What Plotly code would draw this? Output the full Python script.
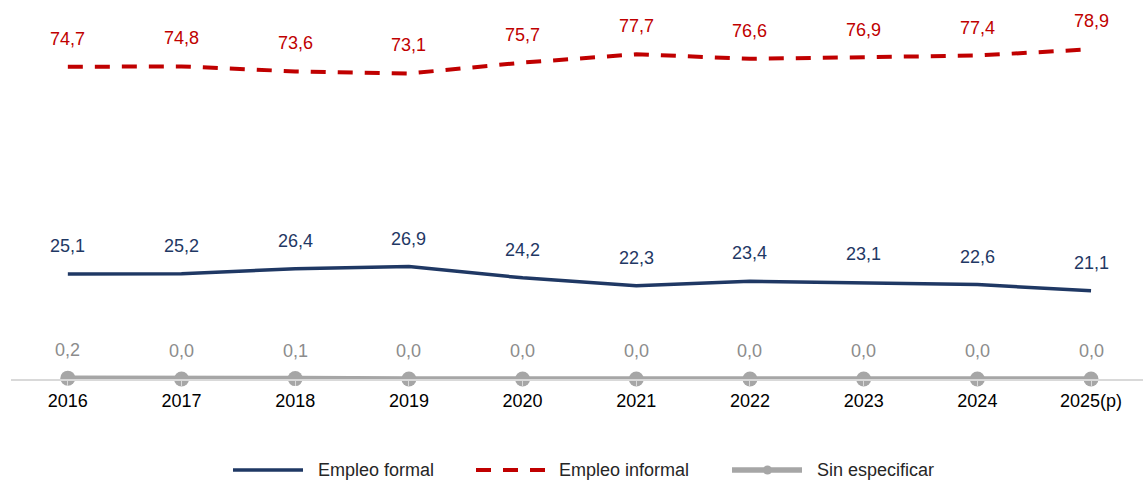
import plotly.graph_objects as go

years = ["2016", "2017", "2018", "2019", "2020", "2021", "2022", "2023", "2024", "2025(p)"]
formal = [25.1, 25.2, 26.4, 26.9, 24.2, 22.3, 23.4, 23.1, 22.6, 21.1]
informal = [74.7, 74.8, 73.6, 73.1, 75.7, 77.7, 76.6, 76.9, 77.4, 78.9]
sin_esp = [0.2, 0.0, 0.1, 0.0, 0.0, 0.0, 0.0, 0.0, 0.0, 0.0]
series_names = ["Empleo formal", "Empleo informal", "Sin especificar"]

c_formal = "#1f3864"
c_inf = "#c00000"
c_sin = "#a6a6a6"
c_sin_lbl = "#8c8c8c"
FONT = "Liberation Sans, Arial"
DASH = "15px,12px"

W, H = 1143, 481
ML, MR, MT, MB = 11, 0, 20, 102
PW, PH = W - ML - MR, H - MT - MB


def fmt(v):
    return f"{v:.1f}".replace(".", ",")


def px(x):
    return (x - ML) / PW


def py(y):
    return (H - MB - y) / PH


xi = list(range(len(years)))
fig = go.Figure()
fig.add_trace(go.Scatter(x=xi, y=formal, mode="lines", name=series_names[0],
                         line=dict(color=c_formal, width=3.5), cliponaxis=False))
fig.add_trace(go.Scatter(x=xi, y=informal, mode="lines", name=series_names[1],
                         line=dict(color=c_inf, width=4, dash=DASH), cliponaxis=False))
fig.add_trace(go.Scatter(x=xi, y=sin_esp, mode="lines+markers", name=series_names[2],
                         line=dict(color=c_sin, width=5.5), marker=dict(color=c_sin, size=15),
                         cliponaxis=False))

annos = []
for series, col in ((formal, c_formal), (informal, c_inf), (sin_esp, c_sin_lbl)):
    for x, v in zip(xi, series):
        annos.append(dict(x=x, y=v, text=fmt(v), showarrow=False, yshift=28,
                          font=dict(color=col, size=18, family=FONT)))

# custom legend (longer line samples, as in the reference)
ly = 470
leg = [
    (233, 303, 316, dict(color=c_formal, width=3.5), False),
    (476, 545, 557, dict(color=c_inf, width=4, dash=DASH), False),
    (732, 802, 815, dict(color=c_sin, width=5.5), True),
]
shapes = []
for (x0, x1, tx, ln, mk), name in zip(leg, series_names):
    shapes.append(dict(type="line", xref="paper", yref="paper", x0=px(x0), x1=px(x1),
                       y0=py(ly), y1=py(ly), line=ln))
    if mk:
        cx = (x0 + x1) / 2 + 0.5
        r = 4.5
        shapes.append(dict(type="circle", xref="paper", yref="paper",
                           x0=px(cx - r), x1=px(cx + r), y0=py(ly + r), y1=py(ly - r),
                           fillcolor=c_sin, line=dict(color=c_sin, width=0)))
    annos.append(dict(xref="paper", yref="paper", x=px(tx), y=py(ly), xanchor="left",
                      yanchor="middle", text=name, showarrow=False,
                      font=dict(size=18, color="#262626", family=FONT)))

fig.update_layout(
    width=W, height=H,
    margin=dict(l=ML, r=MR, t=MT, b=MB, autoexpand=False),
    paper_bgcolor="white", plot_bgcolor="white",
    font=dict(family=FONT, size=18, color="black"),
    annotations=annos,
    shapes=shapes,
    showlegend=False,
    xaxis=dict(range=[-0.5, 9.457], tickmode="array", tickvals=xi, ticktext=years,
               showgrid=False, zeroline=False, showline=True, linecolor="#d9d9d9", linewidth=1.5,
               ticks="outside", tickson="boundaries", ticklen=5, tickcolor="#d9d9d9",
               automargin=False, tickfont=dict(size=18, color="black", family=FONT)),
    yaxis=dict(range=[0, 85.9], visible=False, showgrid=False, zeroline=False),
)
fig.write_html("out.html", config={"displayModeBar": False},
               post_script="document.body.style.margin='0';document.body.style.overflow='hidden';")
